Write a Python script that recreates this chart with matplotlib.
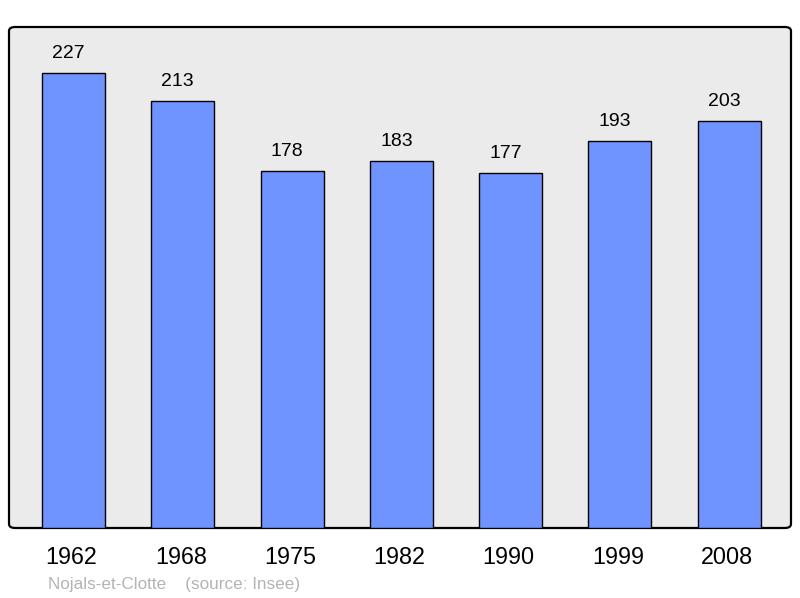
import matplotlib
matplotlib.use("Agg")
import matplotlib.pyplot as plt
import matplotlib.transforms as mtransforms
from matplotlib.patches import FancyBboxPatch

years = ["1962", "1968", "1975", "1982", "1990", "1999", "2008"]
population = [227, 213, 178, 183, 177, 193, 203]

plt.rcParams['font.family'] = ['Liberation Sans', 'DejaVu Sans']

fig = plt.figure(figsize=(8, 5.98), dpi=100)
ax = fig.add_axes([9/800, 1-528/598, 782/800, 501/598])
ax.set_facecolor('none')
for s in ax.spines.values():
    s.set_visible(False)

bg = FancyBboxPatch((0, 0), 1, 1, boxstyle="round,pad=0,rounding_size=0.008",
                    transform=ax.transAxes, facecolor='#ebebeb', edgecolor='black',
                    linewidth=1.6, zorder=0, clip_on=False)
ax.add_patch(bg)

x = list(range(len(years)))
bars = ax.bar(x, population, width=0.577, color='#7094ff', edgecolor='black',
              linewidth=1.0, zorder=2)
for xi, v in zip(x, population):
    ax.annotate(str(v), (xi, v), xytext=(-3.6, 8), textcoords='offset points',
                ha='center', va='bottom', fontsize=14, color='black')

ax.set_xlim(-0.59, 6.565)
ax.set_ylim(0, 250)
ax.set_yticks([])
ax.set_xticks(x)
ax.set_xticklabels(years, fontsize=16.8)
ax.tick_params(axis='x', length=0, pad=13)
offset = mtransforms.ScaledTranslation(-2/100, 0, fig.dpi_scale_trans)
for lbl in ax.get_xticklabels():
    lbl.set_transform(lbl.get_transform() + offset)

fig.text(48/800, 1-584/598, "Nojals-et-Clotte    (source: Insee)", fontsize=12.3,
         color='#b4b4b4', ha='left', va='center')

fig.savefig("out.png", dpi=100)
